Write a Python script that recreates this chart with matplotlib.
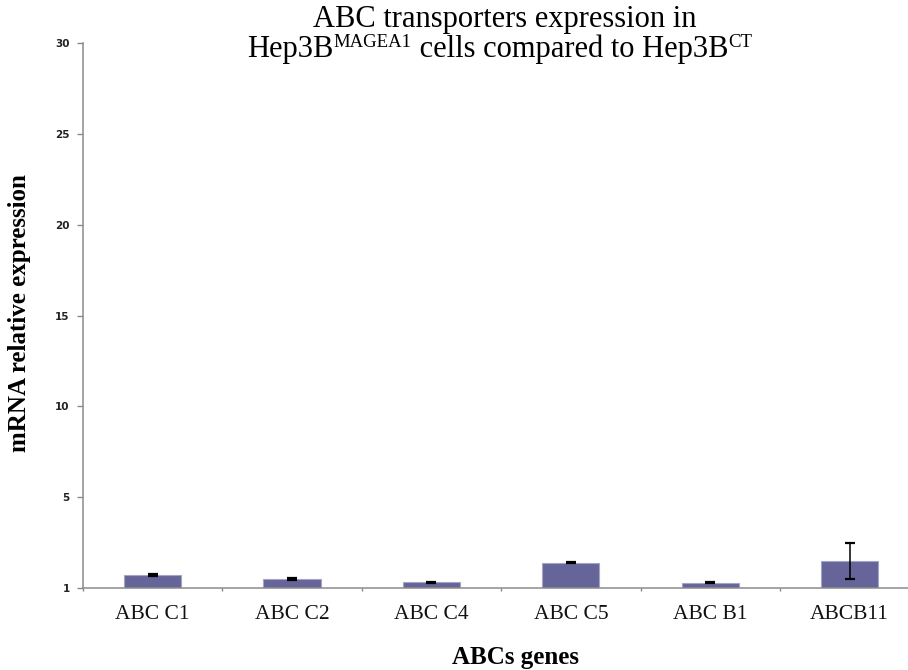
import numpy as np
import matplotlib
matplotlib.use("Agg")
import matplotlib.pyplot as plt

# ABC transporter expression (Hep3B MAGEA1 vs control)
genes = ["ABC C1", "ABC C2", "ABC C4", "ABC C5", "ABC B1", "ABCB11"]
expr = [0.72, 0.50, 0.31, 1.38, 0.29, 1.51]
err = [0.07, 0.07, 0.03, 0.03, 0.03, 0.99]
ytick_pos = [0, 5, 10, 15, 20, 25, 30]
ytick_labels = ["1", "5", "10", "15", "20", "25", "30"]

plt.rcParams["font.family"] = "Liberation Serif"

W, H = 908, 670
fig = plt.figure(figsize=(W / 100, H / 100), dpi=100)
ax = fig.add_axes([0.0914, 0.1224, 0.921, 0.8127])

x = np.arange(len(genes))
ax.bar(x, expr, width=0.41, color="#65659a", edgecolor="#a4a4c8", linewidth=0.8, zorder=2)
ax.errorbar(x, expr, yerr=err, fmt="none", ecolor="black", elinewidth=1.1,
            capsize=3.3, capthick=1.6, zorder=3)

ax.set_xlim(-0.5, len(genes) - 0.5)
ax.set_ylim(0, 30)

# y axis
ax.set_yticks(ytick_pos)
ax.set_yticklabels(ytick_labels, fontfamily="DejaVu Sans", fontweight="bold",
                   fontsize=7.5, color="#222222")
ax.tick_params(axis="y", length=4.5, width=1, color="#888888", pad=5)

# x axis: labels at centers, tick marks on category boundaries
ax.set_xticks(x)
ax.set_xticklabels(genes, fontsize=15.5, color="#111111")
ax.tick_params(axis="x", which="major", length=0, pad=12)
ax.set_xticks(np.arange(len(genes) + 1) - 0.5, minor=True)
ax.tick_params(axis="x", which="minor", length=2.5, width=1, color="#888888")

for side in ["top", "right"]:
    ax.spines[side].set_visible(False)
for side in ["left", "bottom"]:
    ax.spines[side].set_color("#8c8c8c")
    ax.spines[side].set_linewidth(1.1)

fig.text(0.022, 0.533, "mRNA relative expression", rotation=90, fontsize=18,
         fontweight="bold", ha="center", va="center")
fig.text(0.568, 0.018, "ABCs genes", fontsize=18, fontweight="bold",
         ha="center", va="center")

# title, first line
fig.text(505 / W, 1 - 27 / H, "ABC transporters expression in", fontsize=22,
         ha="center", va="baseline")

# title, second line built from pieces so the superscripts stay small
pieces = [("Hep3B", 22, 0), ("MAGEA1", 13.5, 10),
          (" cells compared to Hep3B", 22, 0), ("CT", 13.5, 10)]
renderer = fig.canvas.get_renderer()
texts = []
widths = []
for s, size, rise in pieces:
    t = fig.text(0, 0, s, fontsize=size, ha="left", va="baseline")
    texts.append((t, rise))
    widths.append(t.get_window_extent(renderer).width)
cx = 500 - sum(widths) / 2
base = H - 57
for (t, rise), w in zip(texts, widths):
    t.set_position((cx / W, (base + rise) / H))
    cx += w

fig.savefig("out.png", dpi=100)
